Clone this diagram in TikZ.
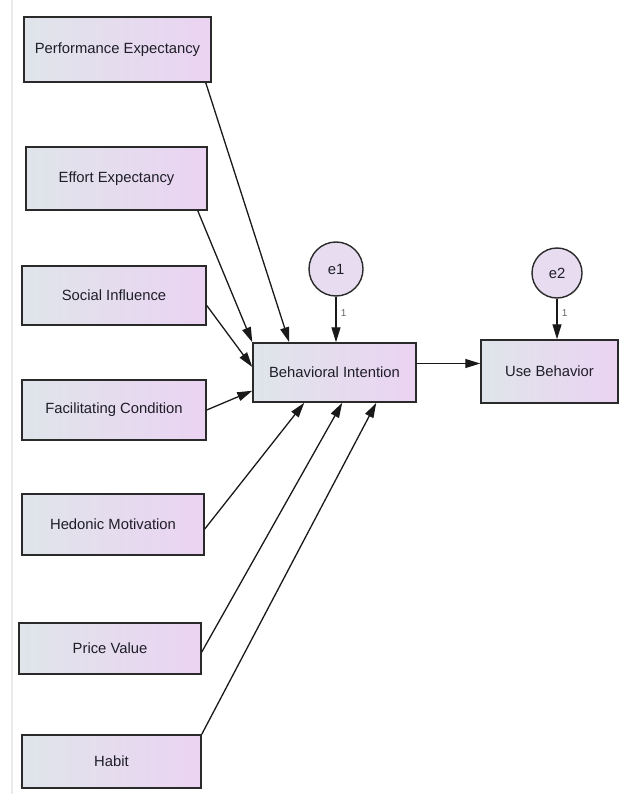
\documentclass[tikz,border=0pt]{standalone}
\usepackage{fontspec}
\setmainfont{Liberation Sans}
\usepackage{tikz}
\usetikzlibrary{arrows.meta}
\usetikzlibrary{positioning,calc}
\usepackage{xcolor}
\definecolor{boxleft}{HTML}{DFE5EA}
\definecolor{boxright}{HTML}{EBD3F2}
\definecolor{errfill}{HTML}{E8DCF0}
\definecolor{edgegray}{HTML}{2A2A2A}
\definecolor{textgray}{HTML}{1E1E28}

\begin{document}
\begin{tikzpicture}[x=1pt,y=-1pt]
  % Define styles for variables
  \tikzset{
    construct/.style={
      draw=edgegray,
      rectangle,
      left color=boxleft,
      right color=boxright,
      line width=1.5pt,
      inner sep=0pt,
      text=textgray,
      font=\fontsize{14.8}{17}\selectfont
    },
    errterm/.style={
      draw=edgegray,
      circle,
      fill=errfill,
      line width=1.4pt,
      inner sep=0pt,
      text=textgray,
      font=\fontsize{14.8}{17}\selectfont
    },
    path/.style={
      draw=black!90,
      line width=1.3pt,
      -{Triangle[length=15pt, width=9pt]}
    },
    weight/.style={
      font=\fontsize{10}{11}\selectfont,
      text=black!60
    }
  }
  \useasboundingbox (0,0) rectangle (623,794);
  \draw[black!8, line width=1.5pt] (12,0) -- (12,794);

  % Exogenous constructs
  \node[construct, minimum width=187pt, minimum height=65pt] (pe) at (117.5,49.5) {Performance Expectancy};
  \node[construct, minimum width=181pt, minimum height=63pt] (ee) at (116.5,178.5) {Effort Expectancy};
  \node[construct, minimum width=184pt, minimum height=59pt] (si) at (114,295.5) {Social Influence};
  \node[construct, minimum width=184pt, minimum height=60pt] (fc) at (114,410) {Facilitating Condition};
  \node[construct, minimum width=182pt, minimum height=61pt] (hm) at (113,524.5) {Hedonic Motivation};
  \node[construct, minimum width=182pt, minimum height=51pt] (pv) at (110,648.5) {Price Value};
  \node[construct, minimum width=179pt, minimum height=53pt] (hb) at (111.5,761.5) {Habit};

  % Endogenous constructs
  \node[construct, minimum width=163pt, minimum height=59pt] (bi) at (334.5,372.5) {Behavioral Intention};
  \node[construct, minimum width=137pt, minimum height=63pt] (ub) at (549.5,371.5) {Use Behavior};

  % Error terms
  \node[errterm, minimum size=54pt] (e1) at (336,269) {e1};
  \node[errterm, minimum size=50pt] (e2) at (557,273) {e2};

  % Paths into Behavioral Intention
  \draw[path] ([xshift=-6pt]pe.south east) -- ([xshift=37pt]bi.north west);
  \draw[path] ([xshift=-10pt]ee.south east) -- (bi.north west);
  \draw[path] ([yshift=-10pt]si.east) -- ([yshift=5.5pt]bi.west);
  \draw[path] (fc.east) -- ([yshift=12pt]bi.south west);
  \draw[path] ([yshift=-4.5pt]hm.east) -- ([xshift=52pt]bi.south west);
  \draw[path] ([yshift=-3.5pt]pv.east) -- ([xshift=90pt]bi.south west);
  \draw[path] (hb.north east) -- ([xshift=124pt]bi.south west);

  % Behavioral Intention to Use Behavior
  \draw[path] ([yshift=9pt]bi.east) -- ([yshift=8pt]ub.west);

  % Error paths with fixed weights
  \draw[path] (e1) -- (e1 |- bi.north) node[weight, pos=0.35, right=1pt] {1};
  \draw[path] (e2) -- (e2 |- ub.north) node[weight, pos=0.35, right=1pt] {1};
\end{tikzpicture}
\end{document}
